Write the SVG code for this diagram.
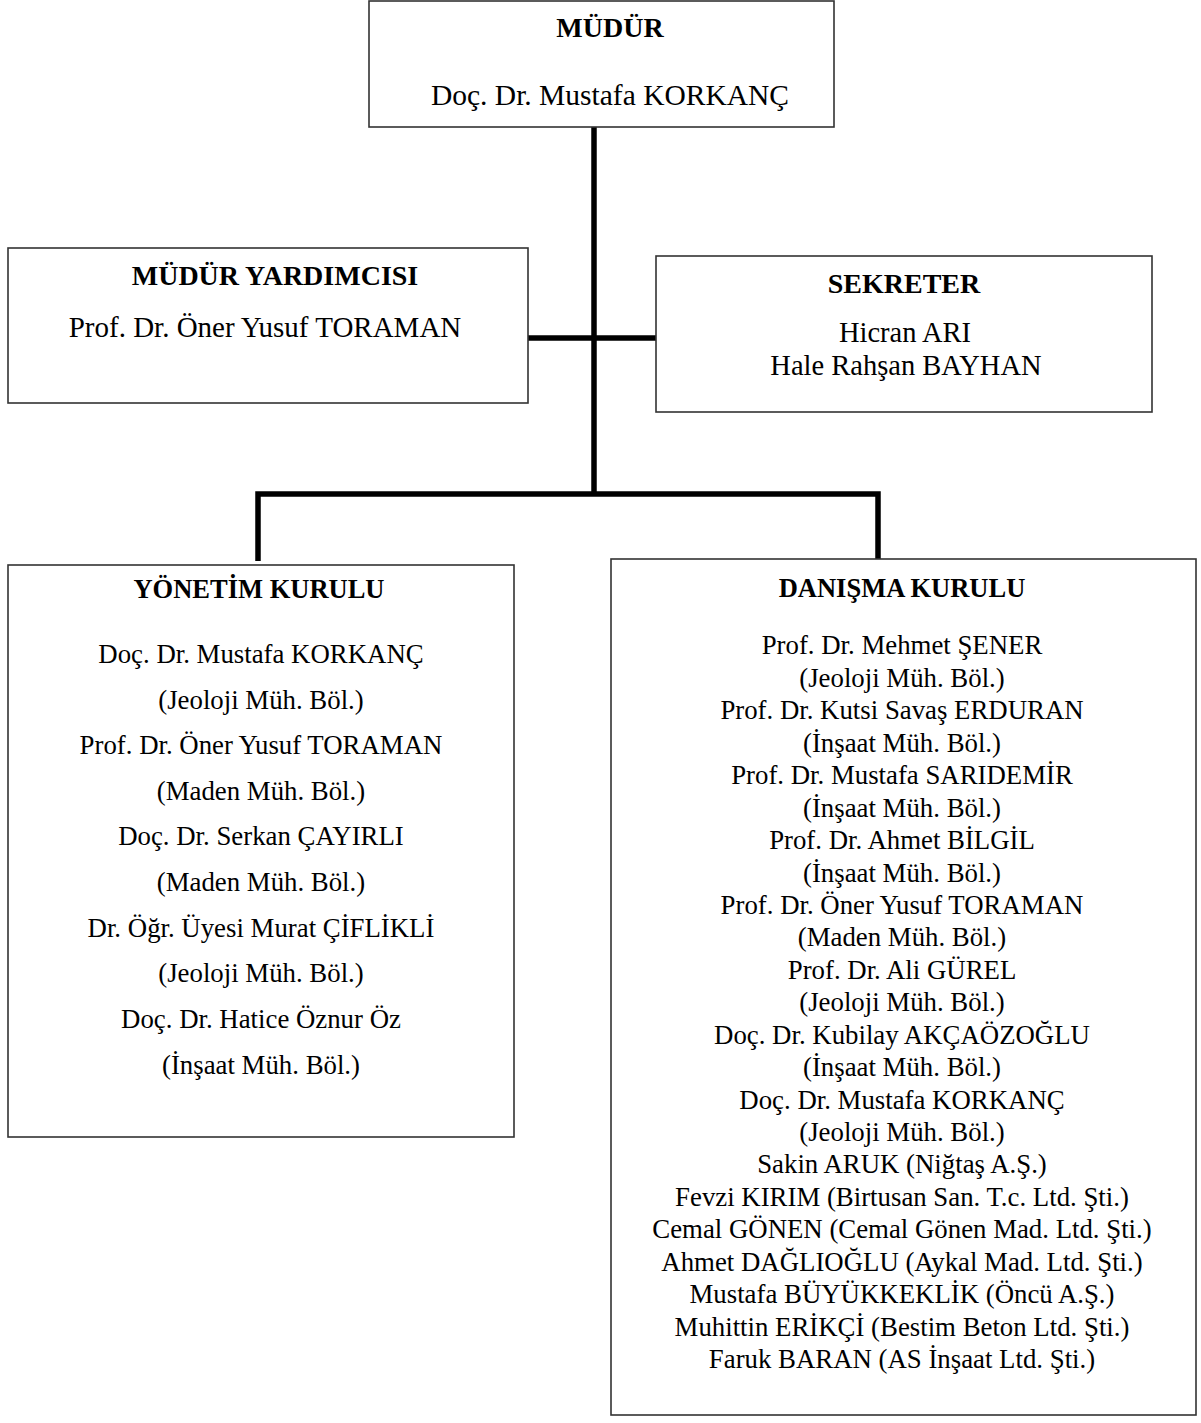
<svg xmlns="http://www.w3.org/2000/svg" width="1201" height="1423" viewBox="0 0 1201 1423">
<style>
.box{fill:#fff;stroke:#333;stroke-width:1.6}
.t{font-family:"Liberation Serif","Times New Roman",serif;fill:#000;text-anchor:middle}
.h{font-weight:bold}
.c{fill:none;stroke:#000;stroke-width:5.5}
</style>
<rect width="1201" height="1423" fill="#fff"/>
<g id="connectors">
<path class="c" d="M594,127 V494"/>
<path class="c" d="M528,338 H656"/>
<path class="c" d="M258,561 V494 H878 V559"/>
</g>
<g id="mudur">
<rect class="box" x="369" y="1" width="465" height="126"/>
<text class="t h" x="610" y="37" font-size="28">MÜDÜR</text>
<text class="t" x="610" y="105" font-size="29.5">Doç. Dr. Mustafa KORKANÇ</text>
</g>
<g id="mudur-yardimcisi">
<rect class="box" x="8" y="248" width="520" height="155"/>
<text class="t h" x="275" y="285" font-size="28">MÜDÜR YARDIMCISI</text>
<text class="t" x="265" y="337" font-size="29">Prof. Dr. Öner Yusuf TORAMAN</text>
</g>
<g id="sekreter">
<rect class="box" x="656" y="256" width="496" height="156"/>
<text class="t h" x="904" y="293" font-size="28">SEKRETER</text>
<text class="t" x="905" y="342" font-size="28.5">Hicran ARI</text>
<text class="t" x="906" y="375" font-size="28.5">Hale Rahşan BAYHAN</text>
</g>
<g id="yonetim-kurulu">
<rect class="box" x="8" y="565" width="506" height="572"/>
<text class="t h" x="259" y="598" font-size="26.5">YÖNETİM KURULU</text>
<g class="t" font-size="26.8">
<text x="261" y="663">Doç. Dr. Mustafa KORKANÇ</text>
<text x="261" y="709">(Jeoloji Müh. Böl.)</text>
<text x="261" y="754">Prof. Dr. Öner Yusuf TORAMAN</text>
<text x="261" y="800">(Maden Müh. Böl.)</text>
<text x="261" y="845">Doç. Dr. Serkan ÇAYIRLI</text>
<text x="261" y="891">(Maden Müh. Böl.)</text>
<text x="261" y="937">Dr. Öğr. Üyesi Murat ÇİFLİKLİ</text>
<text x="261" y="982">(Jeoloji Müh. Böl.)</text>
<text x="261" y="1028">Doç. Dr. Hatice Öznur Öz</text>
<text x="261" y="1074">(İnşaat Müh. Böl.)</text>
</g>
</g>
<g id="danisma-kurulu">
<rect class="box" x="611" y="559" width="585" height="856"/>
<text class="t h" x="902" y="597" font-size="26.5">DANIŞMA KURULU</text>
<g class="t" font-size="26.8">
<text x="902" y="654">Prof. Dr. Mehmet ŞENER</text>
<text x="902" y="687">(Jeoloji Müh. Böl.)</text>
<text x="902" y="719">Prof. Dr. Kutsi Savaş ERDURAN</text>
<text x="902" y="752">(İnşaat Müh. Böl.)</text>
<text x="902" y="784">Prof. Dr. Mustafa SARIDEMİR</text>
<text x="902" y="817">(İnşaat Müh. Böl.)</text>
<text x="902" y="849">Prof. Dr. Ahmet BİLGİL</text>
<text x="902" y="882">(İnşaat Müh. Böl.)</text>
<text x="902" y="914">Prof. Dr. Öner Yusuf TORAMAN</text>
<text x="902" y="946">(Maden Müh. Böl.)</text>
<text x="902" y="979">Prof. Dr. Ali GÜREL</text>
<text x="902" y="1011">(Jeoloji Müh. Böl.)</text>
<text x="902" y="1044">Doç. Dr. Kubilay AKÇAÖZOĞLU</text>
<text x="902" y="1076">(İnşaat Müh. Böl.)</text>
<text x="902" y="1109">Doç. Dr. Mustafa KORKANÇ</text>
<text x="902" y="1141">(Jeoloji Müh. Böl.)</text>
<text x="902" y="1173">Sakin ARUK (Niğtaş A.Ş.)</text>
<text x="902" y="1206">Fevzi KIRIM (Birtusan San. T.c. Ltd. Şti.)</text>
<text x="902" y="1238">Cemal GÖNEN (Cemal Gönen Mad. Ltd. Şti.)</text>
<text x="902" y="1271">Ahmet DAĞLIOĞLU (Aykal Mad. Ltd. Şti.)</text>
<text x="902" y="1303">Mustafa BÜYÜKKEKLİK (Öncü A.Ş.)</text>
<text x="902" y="1336">Muhittin ERİKÇİ (Bestim Beton Ltd. Şti.)</text>
<text x="902" y="1368">Faruk BARAN (AS İnşaat Ltd. Şti.)</text>
</g>
</g>
</svg>
